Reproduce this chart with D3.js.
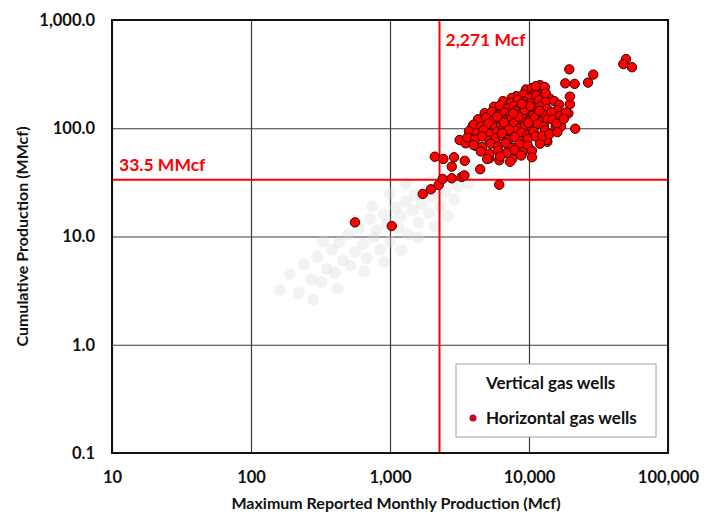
<!DOCTYPE html>
<html>
<head>
<meta charset="utf-8">
<script src="https://cdn.jsdelivr.net/npm/d3@7/dist/d3.min.js"></script>
<style>
  body { margin: 0; background: #fff; }
  text { font-family: Lato, "Liberation Sans", sans-serif; font-weight: bold; }
</style>
</head>
<body>
<div id="chart"></div>
<script>
// ---------------- data ----------------
var xTicks = [10, 100, 1000, 10000, 100000];
var yTicks = [0.1, 1, 10, 100, 1000];

var cutoffMcf = 2271;      // vertical red line
var cutoffMMcf = 33.5;     // horizontal red line

// [max monthly Mcf, cumulative MMcf]
var horizontalWells = [
  [560,13.5],[1030,12.5],[1720,24.7],[1970,27.3],[2240,29.9],[2395,34],[2780,34.5],[3280,35.5],
  [3430,36.7],[4460,41.8],[6110,30.1],[2100,54.6],[2420,52],[2890,54],[3450,50],[2780,44.2],
  [5180,52.8],[6110,50.6],[7590,52.3],[3170,77.9],[3500,72.6],[3940,105],[3980,83.6],[4570,91],
  [4110,69],[4570,64],[13550,75.1],[21500,99],[19200,137],[15560,103],[17000,104],[19700,167],
  [49900,436],[47700,392],[55100,366],[19500,350],[29000,313],[26600,264],[21300,257],[18240,260],
  [19700,196],[13400,78],
  [9500,228],[10500,235],[11500,222],[12400,231],[11000,212],[12000,250],[11200,245],[13000,240],
  [8100,198],[9100,205],[10100,192],[11300,201],[12800,195],[14100,188],[7500,190],[13200,210],
  [6500,178],[7400,172],[8300,183],[9200,176],[10300,170],[11800,181],[13100,174],[15200,178],[16500,165],
  [5600,158],[6200,163],[7000,152],[7800,160],[8600,155],[9600,162],[10800,150],[12000,158],[13500,151],[16000,147],
  [4800,138],[5400,142],[6000,133],[6700,140],[7300,131],[8000,144],[8800,136],[9700,141],[10600,130],
  [11600,138],[12800,133],[14500,140],
  [4300,121],[4900,126],[5500,117],[6100,124],[6800,119],[7500,127],[8300,116],[9100,122],[10000,118],
  [11000,125],[12200,115],[13600,121],
  [4000,108],[4500,103],[5100,110],[5700,101],[6300,107],[7000,104],[7800,111],[8600,100],[9400,106],
  [10400,102],[11500,109],[12800,104],
  [3700,94],[4200,90],[4700,96],[5300,89],[5900,93],[6500,97],[7200,88],[8000,95],[8800,91],[9700,86],[10800,93],
  [3600,82],[4100,79],[4600,84],[5200,77],[5800,81],[6400,85],[7100,78],[7900,83],[8800,76],[9800,80],[11200,84],
  [4000,70],[4600,67],[5300,72],[6000,68],[6800,73],[7600,66],[8500,71],[9800,69],[12000,72],
  [4500,61],[5200,58],[6000,62],[6900,59],[7900,63],[9000,60],[10500,62],
  [5000,52],[6200,55],[7300,49],[8800,56],[10500,54],
  [8400,128],[9300,148],[7700,137],[10200,160],[6600,113],[5900,128],[11900,145],[8900,168],[7200,97],
  [9900,112],[6400,90],[13000,95],[14800,120],[16800,130],[18500,140],[15800,110],[17800,122],[12500,85],
  [14000,88],[16000,92]
];

// faded background cloud
var verticalWells = [
  [160,3.2],[190,4.5],[220,3.0],[240,5.5],[270,4.0],[300,6.5],[320,3.8],[350,5.0],[380,7.5],[400,4.6],
  [430,8.8],[460,6.0],[500,10.5],[520,5.4],[560,7.2],[600,12.0],[640,8.5],[680,6.3],[720,14.5],[760,9.8],
  [800,11.5],[850,7.6],[900,16.0],[950,13.0],[1000,9.0],[1100,18.5],[1150,12.0],[1200,15.5],[1300,21.0],
  [1350,10.5],[1450,17.5],[1500,24.0],[1600,13.5],[1700,20.0],[1800,27.0],[1900,16.5],[2000,23.0],
  [2200,30.0],[2300,19.0],[2500,26.0],[2700,33.0],[2900,22.0],[3100,29.0],[3400,38.0],[3700,31.0],
  [4000,42.0],[280,2.6],[420,3.3],[650,4.8],[900,5.8],[1200,7.5],[1600,9.8],[2100,12.5],[2600,15.5],
  [330,9.0],[550,14.0],[750,19.0],[1000,25.0],[1300,31.0]
];

// ---------------- chart ----------------
var margin = {top: 20, right: 44, bottom: 59, left: 112};
var width = 712 - margin.left - margin.right;
var height = 512 - margin.top - margin.bottom;

var svg = d3.select("#chart").append("svg")
    .attr("width", 712)
    .attr("height", 512)
    .append("g")
    .attr("transform", "translate(" + margin.left + "," + margin.top + ")");

var x = d3.scaleLog().domain([10, 100000]).range([0, width]);
var y = d3.scaleLog().domain([0.1, 1000]).range([height, 0]);

// grid + axes
var xAxis = d3.axisBottom(x).tickValues(xTicks).tickFormat(d3.format(",")).tickSize(-height).tickPadding(18);
var yAxis = d3.axisLeft(y).tickValues(yTicks).tickFormat(d3.format(",.1f")).tickSize(-width).tickPadding(17);

var gx = svg.append("g").attr("transform", "translate(0," + height + ")").call(xAxis);
var gy = svg.append("g").call(yAxis);

[gx, gy].forEach(function(g){
    g.select(".domain").remove();
    g.selectAll("line").attr("stroke", "#3a3a3a").attr("stroke-width", 1.2);
    g.selectAll("text").attr("fill", "#111").style("font-size", "16.5px");
});

// faded vertical wells
svg.selectAll(".vwell")
    .data(verticalWells)
    .enter().append("circle")
    .attr("class", "vwell")
    .attr("cx", function(d){ return x(d[0]); })
    .attr("cy", function(d){ return y(d[1]); })
    .attr("r", 6)
    .attr("fill", "#dadada")
    .attr("opacity", 0.35);

// red cut-off lines
svg.append("line")
    .attr("x1", x(cutoffMcf)).attr("x2", x(cutoffMcf))
    .attr("y1", 0).attr("y2", height)
    .attr("stroke", "#ff0000").attr("stroke-width", 2);
svg.append("line")
    .attr("x1", 0).attr("x2", width)
    .attr("y1", y(cutoffMMcf)).attr("y2", y(cutoffMMcf))
    .attr("stroke", "#ff0000").attr("stroke-width", 2);

// horizontal wells
svg.selectAll(".hwell")
    .data(horizontalWells)
    .enter().append("circle")
    .attr("class", "hwell")
    .attr("cx", function(d){ return x(d[0]); })
    .attr("cy", function(d){ return y(d[1]); })
    .attr("r", 4.7)
    .attr("fill", "#ff0000")
    .attr("stroke", "#3a0000")
    .attr("stroke-width", 1);

// border
svg.append("rect")
    .attr("width", width).attr("height", height)
    .attr("fill", "none").attr("stroke", "#111").attr("stroke-width", 2);

// red labels
svg.append("text")
    .attr("x", x(cutoffMcf) + 6).attr("y", 26)
    .attr("fill", "#ff0000").style("font-size", "17.5px")
    .text("2,271 Mcf");
svg.append("text")
    .attr("x", 7).attr("y", y(cutoffMMcf) - 9)
    .attr("fill", "#ff0000").style("font-size", "17.5px")
    .text("33.5 MMcf");

// legend
var legend = svg.append("g").attr("transform", "translate(" + (456 - margin.left) + "," + (364 - margin.top) + ")");
legend.append("rect")
    .attr("width", 200).attr("height", 73)
    .attr("fill", "#fff").attr("stroke", "#a0a0a0").attr("stroke-width", 1);
legend.append("text").attr("x", 30).attr("y", 25).style("font-size", "17px").attr("fill", "#111")
    .text("Vertical gas wells");
legend.append("circle").attr("cx", 17).attr("cy", 54).attr("r", 3.5).attr("fill", "#c8002a");
legend.append("text").attr("x", 30).attr("y", 60).style("font-size", "17px").attr("fill", "#111")
    .text("Horizontal gas wells");

// axis titles
svg.append("text")
    .attr("x", width / 2 + 6).attr("y", height + 56)
    .attr("text-anchor", "middle").style("font-size", "16px").attr("fill", "#111")
    .text("Maximum Reported Monthly Production (Mcf)");
svg.append("text")
    .attr("transform", "rotate(-90)")
    .attr("x", -height / 2).attr("y", -84)
    .attr("text-anchor", "middle").style("font-size", "16px").attr("fill", "#111")
    .text("Cumulative Production (MMcf)");
</script>
</body>
</html>
